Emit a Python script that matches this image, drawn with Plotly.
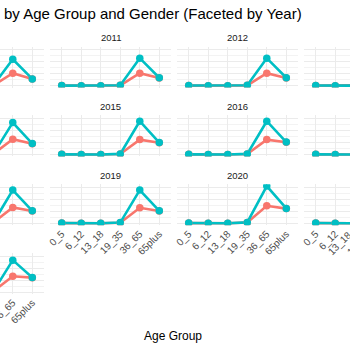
import plotly.graph_objects as go

# ---------------- data ----------------
years = [2010, 2011, 2012, 2013, 2014, 2015, 2016, 2017, 2018, 2019, 2020, 2021, 2022]
age_groups = ["0_5", "6_12", "13_18", "19_35", "36_65", "65plus"]

female_0_5 = [18, 18, 20, 20, 22, 22, 22, 22, 25, 26, 26, 26, 25]
female_6_12 = [8, 8, 9, 9, 10, 10, 10, 10, 11, 11, 12, 12, 12]
female_13_18 = [11, 11, 12, 12, 14, 14, 14, 14, 15, 16, 16, 16, 15]
female_19_35 = [35, 40, 40, 45, 50, 55, 55, 55, 60, 62, 75, 70, 65]
female_36_65 = [1050, 1050, 1050, 1150, 1280, 1250, 1250, 1300, 1330, 1300, 1470, 1400, 1330]
female_65plus = [560, 655, 655, 785, 905, 985, 1035, 1065, 1035, 1035, 1235, 1185, 1215]

male_0_5 = [20, 20, 22, 22, 25, 25, 25, 25, 28, 30, 30, 30, 28]
male_6_12 = [8, 8, 9, 9, 10, 10, 10, 10, 12, 12, 12, 12, 12]
male_13_18 = [12, 12, 13, 13, 15, 15, 15, 15, 16, 18, 18, 18, 17]
male_19_35 = [40, 45, 45, 50, 55, 60, 60, 60, 65, 70, 85, 75, 70]
male_36_65 = [2215, 2300, 2300, 2450, 2670, 2780, 2780, 2800, 2780, 2780, 3110, 2900, 2670]
male_65plus = [575, 670, 670, 800, 920, 1000, 1050, 1080, 1050, 1050, 1250, 1200, 1230]

female_cols = [female_0_5, female_6_12, female_13_18, female_19_35, female_36_65, female_65plus]
male_cols = [male_0_5, male_6_12, male_13_18, male_19_35, male_36_65, male_65plus]

# ---------------- layout constants ----------------
W = H = 350
COL_LEFT = [-77, 50, 177, 304]
PANEL_W = 121
ROW_TOP = [46.6, 115.4, 184.2, 253.0]
PANEL_H = 41
NCOL = 4
RED = "#F8766D"
TEAL = "#00BFC4"
GRID = "#EBEBEB"
FONT = "Liberation Sans, Arial, sans-serif"
TICKFONT = dict(size=10, color="#4D4D4D", family=FONT)

all_vals = [v for c in female_cols + male_cols for v in c]
vmin, vmax = min(all_vals), max(all_vals)
pad = 0.05 * (vmax - vmin)
yrange = [vmin - pad, vmax + pad]

n_cat = len(age_groups)
full_lo, full_hi = -0.6, n_cat - 1 + 0.6
spacing = PANEL_W / (full_hi - full_lo)

fig = go.Figure()
annotations = []
layout_axes = {}

for i, yr in enumerate(years):
    row, col = divmod(i, NCOL)
    n = i + 1
    xa = "xaxis" if n == 1 else f"xaxis{n}"
    ya = "yaxis" if n == 1 else f"yaxis{n}"
    xr = "x" if n == 1 else f"x{n}"
    yref = "y" if n == 1 else f"y{n}"

    left = COL_LEFT[col]
    vis_l = max(0, left)
    vis_r = min(W, left + PANEL_W)
    r0 = full_lo + (vis_l - left) / spacing
    r1 = full_lo + (vis_r - left) / spacing
    top = ROW_TOP[row]

    below_exists = (i + NCOL) < len(years)
    show_labels = not below_exists

    layout_axes[xa] = dict(
        domain=[vis_l / W, vis_r / W], anchor=yref, type="category",
        categoryorder="array", categoryarray=age_groups, range=[r0, r1],
        showgrid=True, gridcolor=GRID, gridwidth=1, zeroline=False,
        showline=False, ticks="", showticklabels=show_labels, tickangle=-45,
        tickfont=TICKFONT, automargin=False,
    )
    layout_axes[ya] = dict(
        domain=[1 - (top + PANEL_H) / H, 1 - top / H], anchor=xr,
        range=yrange, showgrid=True, gridcolor=GRID, gridwidth=1,
        dtick=1000, zeroline=False, showline=False, ticks="",
        showticklabels=False, automargin=False,
        minor=dict(dtick=500, showgrid=True, gridcolor="#F3F3F3", gridwidth=0.6),
    )

    # tick labels of categories lying just beyond the window edge (partly visible)
    if show_labels:
        for k, cat in enumerate(age_groups):
            px = left + (k - full_lo) * spacing
            if W < px < W + 25 and px > vis_r:
                annotations.append(dict(
                    text=cat, x=px / W, y=1 - (top + PANEL_H + 3.5) / H,
                    xref="paper", yref="paper", xanchor="right", yanchor="top",
                    textangle=-45, showarrow=False, font=TICKFONT, borderpad=0,
                ))

    fvals = [c[i] for c in female_cols]
    mvals = [c[i] for c in male_cols]
    common = dict(x=age_groups, xaxis=xr, yaxis=yref, showlegend=False, hoverinfo="skip")
    fig.add_trace(go.Scatter(y=fvals, mode="lines", line=dict(color=RED, width=2.6), **common))
    fig.add_trace(go.Scatter(y=mvals, mode="lines", line=dict(color=TEAL, width=2.6), **common))
    fig.add_trace(go.Scatter(y=fvals, mode="markers", marker=dict(color=RED, size=7.5), **common))
    fig.add_trace(go.Scatter(y=mvals, mode="markers", marker=dict(color=TEAL, size=7.5), **common))

    cx = left + PANEL_W / 2
    if 5 < cx < W - 5:
        annotations.append(dict(
            text=str(yr), x=cx / W, y=1 - (top - 9) / H, xref="paper", yref="paper",
            xanchor="center", yanchor="middle", showarrow=False,
            font=dict(size=9.5, color="#1A1A1A", family=FONT),
        ))

annotations.append(dict(
    text="by Age Group and Gender (Faceted by Year)", x=2 / W, y=1 - 13 / H,
    xref="paper", yref="paper", xanchor="left", yanchor="middle", showarrow=False,
    font=dict(size=15, color="#000000", family=FONT),
))
annotations.append(dict(
    text="Age Group", x=173 / W, y=1 - 336 / H, xref="paper", yref="paper",
    xanchor="center", yanchor="middle", showarrow=False,
    font=dict(size=12, color="#000000", family=FONT),
))

fig.update_layout(
    width=W, height=H, margin=dict(l=0, r=0, t=0, b=0, autoexpand=False),
    paper_bgcolor="white", plot_bgcolor="white", showlegend=False,
    annotations=annotations, font=dict(family=FONT), **layout_axes,
)

fig.write_html("out.html", config={"displayModeBar": False})
